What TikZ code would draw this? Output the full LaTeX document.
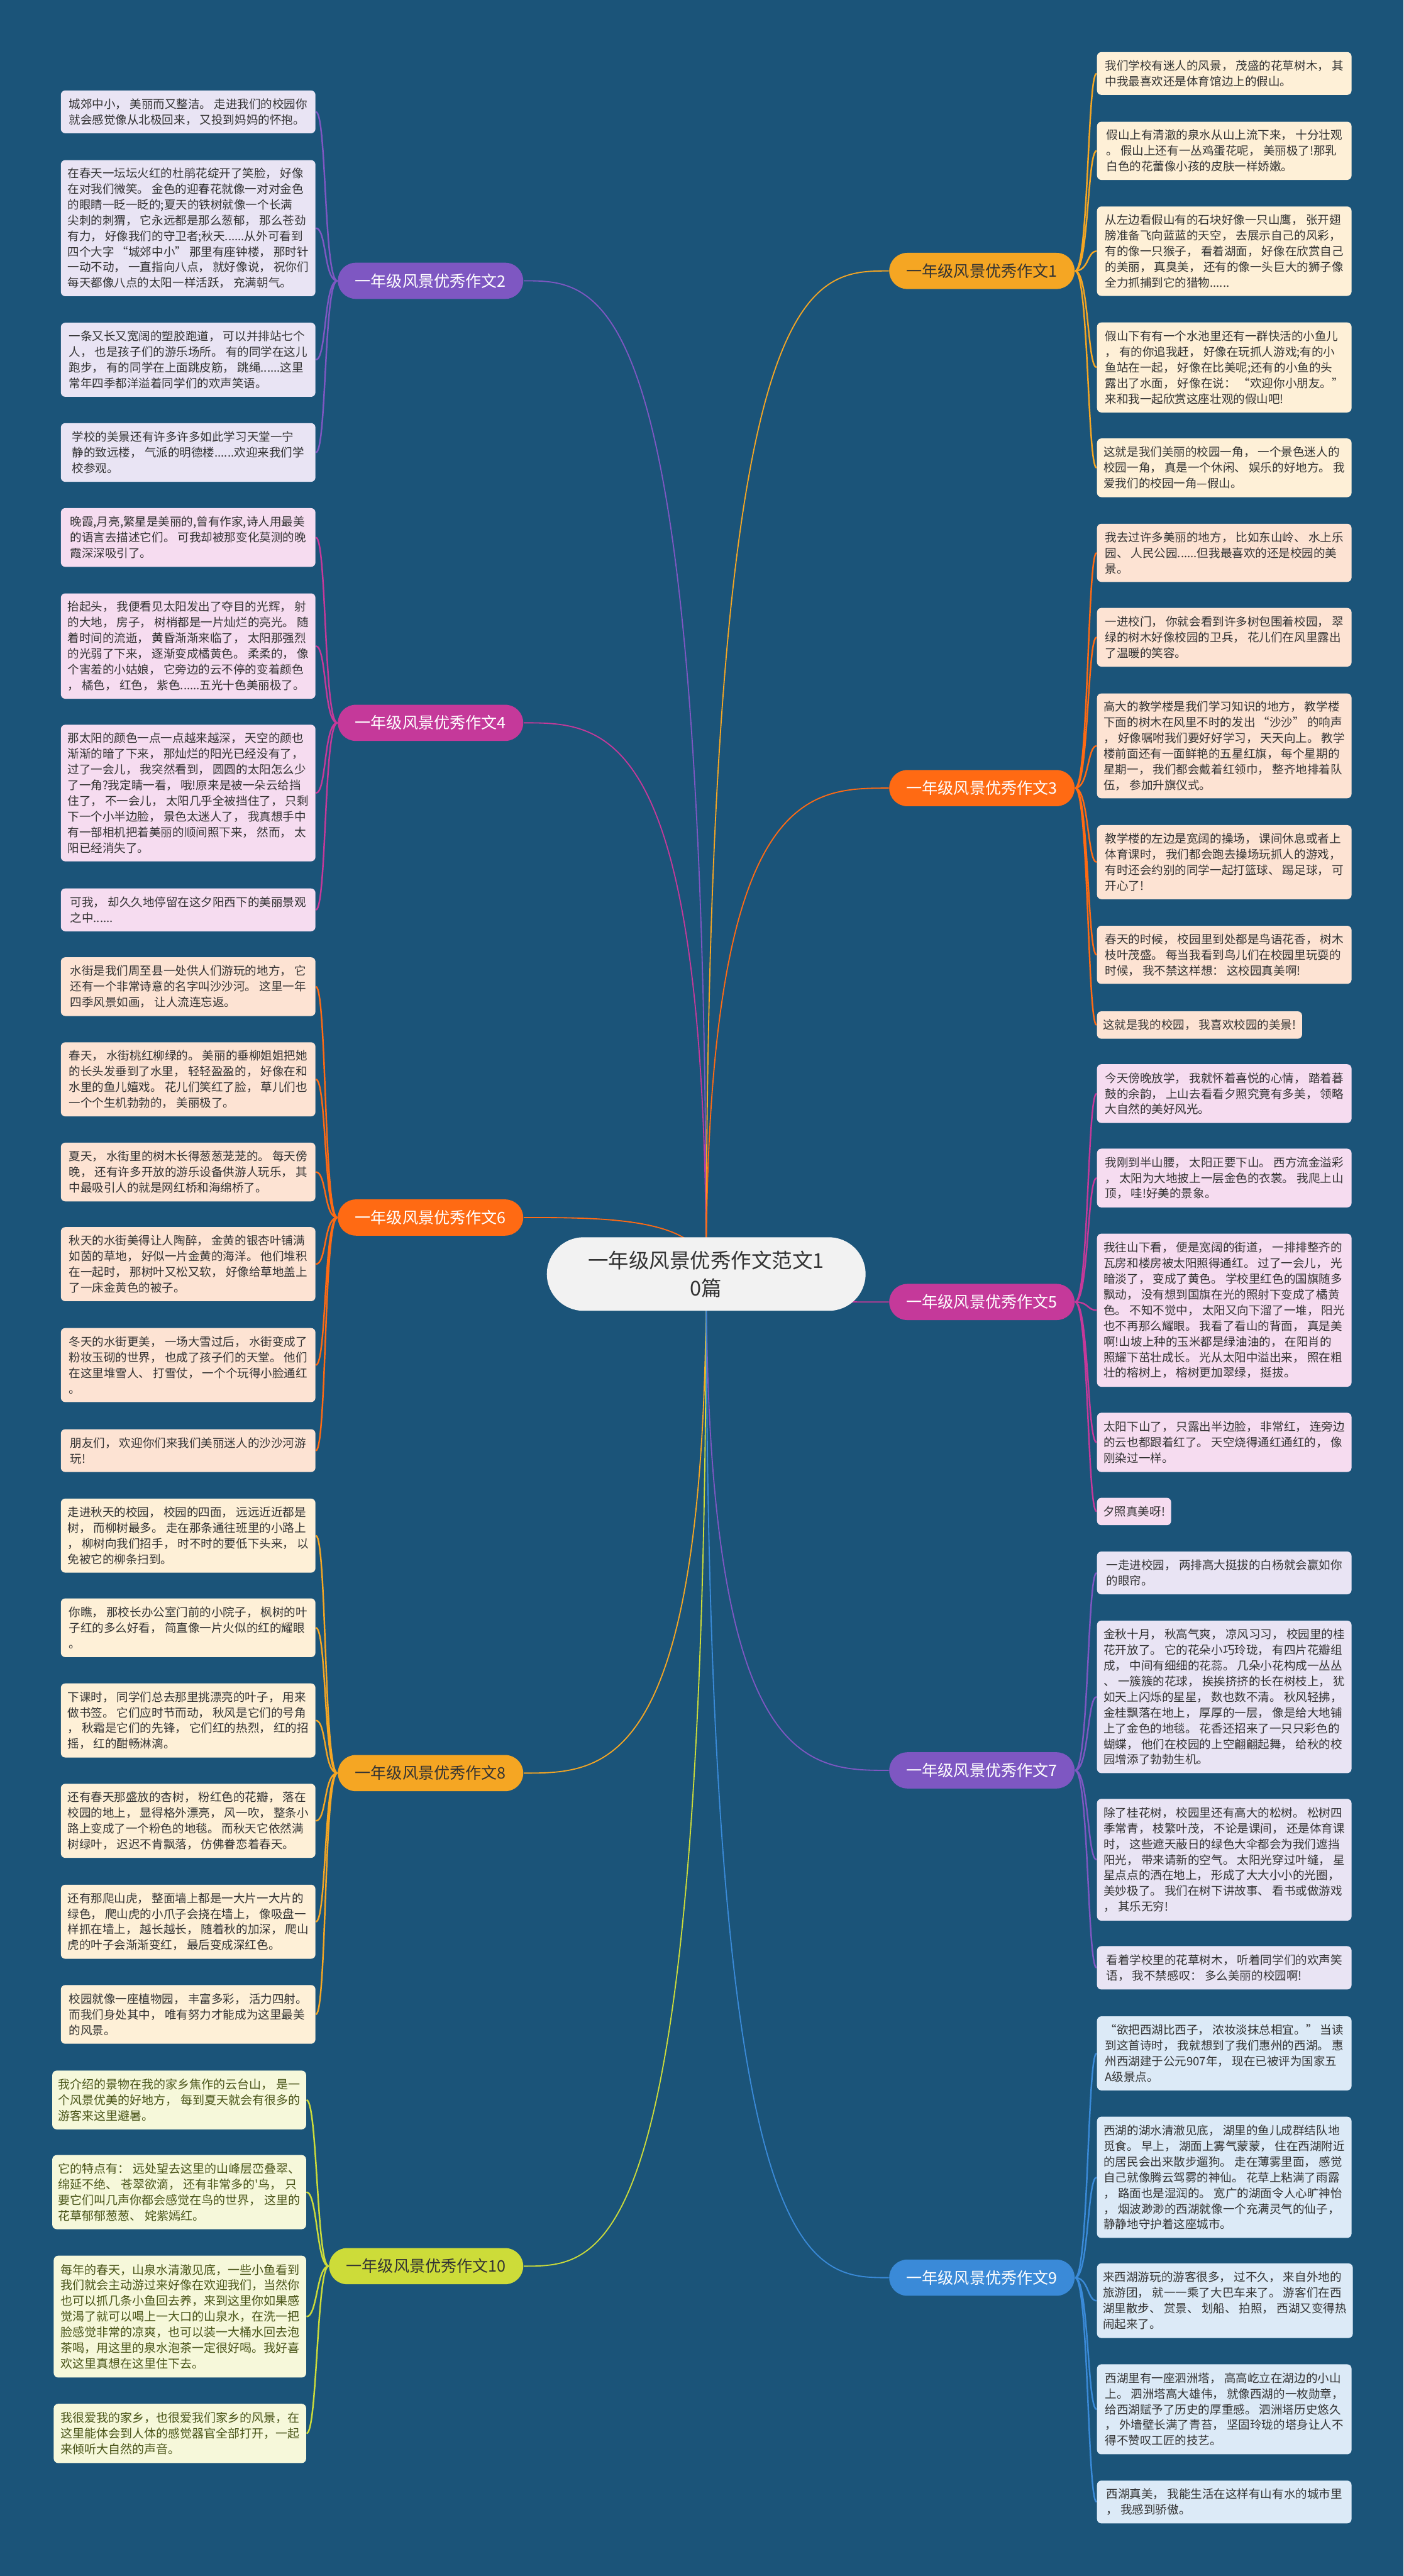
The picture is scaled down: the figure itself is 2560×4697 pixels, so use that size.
\documentclass[tikz,border=0pt]{standalone}
\usepackage{fontspec}
\newfontfamily\cjk{Noto Sans CJK SC}
\usetikzlibrary{calc}

\definecolor{bgblue}{HTML}{1B5479}
\definecolor{rootfill}{HTML}{F2F2F2}
\definecolor{ink}{HTML}{333333}
\definecolor{oliveink}{HTML}{4A5519}
\definecolor{goldbr}{HTML}{F5A623}
\definecolor{purplebr}{HTML}{7E57C2}
\definecolor{orangebr}{HTML}{FF6A13}
\definecolor{berrybr}{HTML}{C5399A}
\definecolor{bluebr}{HTML}{3A8AD8}
\definecolor{limebr}{HTML}{CDDC39}
\definecolor{goldpale}{HTML}{FEF0D7}
\definecolor{purplepale}{HTML}{E9E4F4}
\definecolor{orangepale}{HTML}{FDE3D3}
\definecolor{berrypale}{HTML}{F6DCF0}
\definecolor{bluepale}{HTML}{DCEAF7}
\definecolor{limepale}{HTML}{F6F8DA}

\pgfdeclarelayer{background}
\pgfsetlayers{background,main}

\begin{document}
\begin{tikzpicture}[
  x=0.01cm, y=-0.01cm,
  every node/.style={font=\cjk},
  root/.style={fill=rootfill, text=ink, rounded corners=0.67cm,
    minimum width=5.81cm, minimum height=1.34cm, align=center,
    font=\cjk\fontsize{10.6}{14.5}\selectfont},
  topic/.style={rounded corners=0.33cm, minimum width=3.38cm,
    minimum height=0.66cm, inner sep=0pt,
    font=\cjk\fontsize{8.2}{10}\selectfont},
  leaf/.style={rounded corners=0.08cm, align=left, text=ink,
    inner xsep=0.11cm, inner ysep=0.04cm,
    font=\cjk\fontsize{6.05}{8.13}\selectfont},
  wide/.style={leaf, minimum width=4.64cm},
  hill/.style={leaf, minimum width=4.6cm, fill=limepale, text=oliveink,
    font=\cjk\fontsize{6.2}{8.13}\selectfont},
  spoke/.style={line width=0.6pt},
  twig/.style={line width=0.8pt}
]
\useasboundingbox (0,0) rectangle (2560,4697);

% ------------------------------------------------------------
% Centre and topics
% ------------------------------------------------------------
\node[root] (root) at (1288,2323) {一年级风景优秀作文范文1\\0篇};

\node[topic, fill=purplebr, text=white, anchor=east] (t2) at (955,512) {一年级风景优秀作文2};
\node[topic, fill=berrybr, text=white, anchor=east] (t4) at (955,1318) {一年级风景优秀作文4};
\node[topic, fill=orangebr, text=white, anchor=east] (t6) at (955,2220) {一年级风景优秀作文6};
\node[topic, fill=goldbr, text=ink, anchor=east] (t8) at (955,3233) {一年级风景优秀作文8};
\node[topic, fill=limebr, text=ink, anchor=east, minimum width=3.54cm] (t10) at (955,4132) {一年级风景优秀作文10};

\node[topic, fill=goldbr, text=ink, anchor=west] (t1) at (1621,494) {一年级风景优秀作文1};
\node[topic, fill=orangebr, text=white, anchor=west] (t3) at (1621,1437) {一年级风景优秀作文3};
\node[topic, fill=berrybr, text=white, anchor=west] (t5) at (1621,2374) {一年级风景优秀作文5};
\node[topic, fill=purplebr, text=white, anchor=west] (t7) at (1621,3228) {一年级风景优秀作文7};
\node[topic, fill=bluebr, text=white, anchor=west] (t9) at (1621,4153) {一年级风景优秀作文9};

% ------------------------------------------------------------
% Left column
% ------------------------------------------------------------
% topic 2
\node[wide, fill=purplepale, anchor=east, minimum height=0.78cm] (l2a) at (576,204) {城郊中小， 美丽而又整洁。 走进我们的校园你\\
就会感觉像从北极回来， 又投到妈妈的怀抱。};
\node[wide, fill=purplepale, anchor=east, minimum height=2.48cm] (l2b) at (576,416) {在春天一坛坛火红的杜鹃花绽开了笑脸， 好像\\
在对我们微笑。 金色的迎春花就像一对对金色\\
的眼睛一眨一眨的;夏天的铁树就像一个长满\\
尖刺的刺猬， 它永远都是那么葱郁， 那么苍劲\\
有力， 好像我们的守卫者;秋天......从外可看到\\
四个大字 “城郊中小” 那里有座钟楼， 那时针\\
一动不动， 一直指向八点， 就好像说， 祝你们\\
每天都像八点的太阳一样活跃， 充满朝气。};
\node[wide, fill=purplepale, anchor=east, minimum height=1.35cm] (l2c) at (576,656) {一条又长又宽阔的塑胶跑道， 可以并排站七个\\
人， 也是孩子们的游乐场所。 有的同学在这儿\\
跑步， 有的同学在上面跳皮筋， 跳绳......这里\\
常年四季都洋溢着同学们的欢声笑语。};
\node[wide, fill=purplepale, anchor=east, minimum height=1.07cm] (l2d) at (576,825) {学校的美景还有许多许多如此学习天堂一宁\\
静的致远楼， 气派的明德楼......欢迎来我们学\\
校参观。};

% topic 4
\node[wide, fill=berrypale, anchor=east, minimum height=1.07cm] (l4a) at (576,980) {晚霞,月亮,繁星是美丽的,曾有作家,诗人用最美\\
的语言去描述它们。 可我却被那变化莫测的晚\\
霞深深吸引了。};
\node[wide, fill=berrypale, anchor=east, minimum height=1.92cm] (l4b) at (576,1178) {抬起头， 我便看见太阳发出了夺目的光辉， 射\\
的大地， 房子， 树梢都是一片灿烂的亮光。 随\\
着时间的流逝， 黄昏渐渐来临了， 太阳那强烈\\
的光弱了下来， 逐渐变成橘黄色。 柔柔的， 像\\
个害羞的小姑娘， 它旁边的云不停的变着颜色\\
， 橘色， 红色， 紫色......五光十色美丽极了。};
\node[wide, fill=berrypale, anchor=east, minimum height=2.49cm] (l4c) at (576,1446) {那太阳的颜色一点一点越来越深， 天空的颜也\\
渐渐的暗了下来， 那灿烂的阳光已经没有了，\\
过了一会儿， 我突然看到， 圆圆的太阳怎么少\\
了一角?我定睛一看， 哦!原来是被一朵云给挡\\
住了， 不一会儿， 太阳几乎全被挡住了， 只剩\\
下一个小半边脸， 景色太迷人了， 我真想手中\\
有一部相机把着美丽的顺间照下来， 然而， 太\\
阳已经消失了。};
\node[wide, fill=berrypale, anchor=east, minimum height=0.78cm] (l4d) at (576,1659) {可我， 却久久地停留在这夕阳西下的美丽景观\\
之中......};

% topic 6
\node[wide, fill=orangepale, anchor=east, minimum height=1.07cm] (l6a) at (576,1799) {水街是我们周至县一处供人们游玩的地方， 它\\
还有一个非常诗意的名字叫沙沙河。 这里一年\\
四季风景如画， 让人流连忘返。};
\node[wide, fill=orangepale, anchor=east, minimum height=1.35cm] (l6b) at (576,1968) {春天， 水街桃红柳绿的。 美丽的垂柳姐姐把她\\
的长头发垂到了水里， 轻轻盈盈的， 好像在和\\
水里的鱼儿嬉戏。 花儿们笑红了脸， 草儿们也\\
一个个生机勃勃的， 美丽极了。};
\node[wide, fill=orangepale, anchor=east, minimum height=1.07cm] (l6c) at (576,2137) {夏天， 水街里的树木长得葱葱茏茏的。 每天傍\\
晚， 还有许多开放的游乐设备供游人玩乐， 其\\
中最吸引人的就是网红桥和海绵桥了。};
\node[wide, fill=orangepale, anchor=east, minimum height=1.35cm] (l6d) at (576,2305) {秋天的水街美得让人陶醉， 金黄的银杏叶铺满\\
如茵的草地， 好似一片金黄的海洋。 他们堆积\\
在一起时， 那树叶又松又软， 好像给草地盖上\\
了一床金黄色的被子。};
\node[wide, fill=orangepale, anchor=east, minimum height=1.35cm] (l6e) at (576,2489) {冬天的水街更美， 一场大雪过后， 水街变成了\\
粉妆玉砌的世界， 也成了孩子们的天堂。 他们\\
在这里堆雪人、 打雪仗， 一个个玩得小脸通红\\
。};
\node[wide, fill=orangepale, anchor=east, minimum height=0.78cm] (l6f) at (576,2645) {朋友们， 欢迎你们来我们美丽迷人的沙沙河游\\
玩!};

% topic 8
\node[wide, fill=goldpale, anchor=east, minimum height=1.35cm] (l8a) at (576,2800) {走进秋天的校园， 校园的四面， 远远近近都是\\
树， 而柳树最多。 走在那条通往班里的小路上\\
， 柳树向我们招手， 时不时的要低下头来， 以\\
免被它的柳条扫到。};
\node[wide, fill=goldpale, anchor=east, minimum height=1.07cm] (l8b) at (576,2968) {你瞧， 那校长办公室门前的小院子， 枫树的叶\\
子红的多么好看， 简直像一片火似的红的耀眼\\
。};
\node[wide, fill=goldpale, anchor=east, minimum height=1.35cm] (l8c) at (576,3137) {下课时， 同学们总去那里挑漂亮的叶子， 用来\\
做书签。 它们应时节而动， 秋风是它们的号角\\
， 秋霜是它们的先锋， 它们红的热烈， 红的招\\
摇， 红的酣畅淋漓。};
\node[wide, fill=goldpale, anchor=east, minimum height=1.35cm] (l8d) at (576,3320) {还有春天那盛放的杏树， 粉红色的花瓣， 落在\\
校园的地上， 显得格外漂亮， 风一吹， 整条小\\
路上变成了一个粉色的地毯。 而秋天它依然满\\
树绿叶， 迟迟不肯飘落， 仿佛眷恋着春天。};
\node[wide, fill=goldpale, anchor=east, minimum height=1.35cm] (l8e) at (576,3504) {还有那爬山虎， 整面墙上都是一大片一大片的\\
绿色， 爬山虎的小爪子会挠在墙上， 像吸盘一\\
样抓在墙上， 越长越长， 随着秋的加深， 爬山\\
虎的叶子会渐渐变红， 最后变成深红色。};
\node[wide, fill=goldpale, anchor=east, minimum height=1.07cm] (l8f) at (576,3673) {校园就像一座植物园， 丰富多彩， 活力四射。\\
而我们身处其中， 唯有努力才能成为这里最美\\
的风景。};

% topic 10
\node[hill, anchor=east, minimum height=1.07cm] (l10a) at (559,3829) {我介绍的景物在我的家乡焦作的云台山， 是一\\
个风景优美的好地方， 每到夏天就会有很多的\\
游客来这里避暑。};
\node[hill, anchor=east, minimum height=1.35cm] (l10b) at (559,3997) {它的特点有： 远处望去这里的山峰层峦叠翠、\\
绵延不绝、 苍翠欲滴， 还有非常多的'鸟， 只\\
要它们叫几声你都会感觉在鸟的世界， 这里的\\
花草郁郁葱葱、 姹紫嫣红。};
\node[hill, anchor=east, minimum height=2.22cm] (l10c) at (559,4224) {每年的春天，山泉水清澈见底，一些小鱼看到\\
我们就会主动游过来好像在欢迎我们，当然你\\
也可以抓几条小鱼回去养，来到这里你如果感\\
觉渴了就可以喝上一大口的山泉水，在洗一把\\
脸感觉非常的凉爽，也可以装一大桶水回去泡\\
茶喝，用这里的泉水泡茶一定很好喝。我好喜\\
欢这里真想在这里住下去。};
\node[hill, anchor=east, minimum height=1.08cm] (l10d) at (559,4437) {我很爱我的家乡，也很爱我们家乡的风景，在\\
这里能体会到人体的感觉器官全部打开，一起\\
来倾听大自然的声音。};

% ------------------------------------------------------------
% Right column
% ------------------------------------------------------------
% topic 1
\node[wide, fill=goldpale, anchor=west, minimum height=0.78cm] (r1a) at (2000,134) {我们学校有迷人的风景， 茂盛的花草树木， 其\\
中我最喜欢还是体育馆边上的假山。};
\node[wide, fill=goldpale, anchor=west, minimum height=1.06cm] (r1b) at (2000,275) {假山上有清澈的泉水从山上流下来， 十分壮观\\
。 假山上还有一丛鸡蛋花呢， 美丽极了!那乳\\
白色的花蕾像小孩的皮肤一样娇嫩。};
\node[wide, fill=goldpale, anchor=west, minimum height=1.63cm] (r1c) at (2000,458) {从左边看假山有的石块好像一只山鹰， 张开翅\\
膀准备飞向蓝蓝的天空， 去展示自己的风彩，\\
有的像一只猴子， 看着湖面， 好像在欣赏自己\\
的美丽， 真臭美， 还有的像一头巨大的狮子像\\
全力抓捕到它的猎物......};
\node[wide, fill=goldpale, anchor=west, minimum height=1.64cm] (r1d) at (2000,670) {假山下有有一个水池里还有一群快活的小鱼儿\\
， 有的你追我赶， 好像在玩抓人游戏;有的小\\
鱼站在一起， 好像在比美呢;还有的小鱼的头\\
露出了水面， 好像在说： “欢迎你小朋友。”\\
来和我一起欣赏这座壮观的假山吧!};
\node[wide, fill=goldpale, anchor=west, minimum height=1.07cm] (r1e) at (2000,853) {这就是我们美丽的校园一角， 一个景色迷人的\\
校园一角， 真是一个休闲、 娱乐的好地方。 我\\
爱我们的校园一角—假山。};

% topic 3
\node[wide, fill=orangepale, anchor=west, minimum height=1.06cm] (r3a) at (2000,1008) {我去过许多美丽的地方， 比如东山岭、 水上乐\\
园、 人民公园......但我最喜欢的还是校园的美\\
景。};
\node[wide, fill=orangepale, anchor=west, minimum height=1.07cm] (r3b) at (2000,1162) {一进校门， 你就会看到许多树包围着校园， 翠\\
绿的树木好像校园的卫兵， 花儿们在风里露出\\
了温暖的笑容。};
\node[wide, fill=orangepale, anchor=west, minimum height=1.91cm] (r3c) at (2000,1360) {高大的教学楼是我们学习知识的地方， 教学楼\\
下面的树木在风里不时的发出 “沙沙” 的响声\\
， 好像嘱咐我们要好好学习， 天天向上。 教学\\
楼前面还有一面鲜艳的五星红旗， 每个星期的\\
星期一， 我们都会戴着红领巾， 整齐地排着队\\
伍， 参加升旗仪式。};
\node[wide, fill=orangepale, anchor=west, minimum height=1.35cm] (r3d) at (2000,1572) {教学楼的左边是宽阔的操场， 课间休息或者上\\
体育课时， 我们都会跑去操场玩抓人的游戏，\\
有时还会约别的同学一起打篮球、 踢足球， 可\\
开心了!};
\node[wide, fill=orangepale, anchor=west, minimum height=1.06cm] (r3e) at (2000,1741) {春天的时候， 校园里到处都是鸟语花香， 树木\\
枝叶茂盛。 每当我看到鸟儿们在校园里玩耍的\\
时候， 我不禁这样想： 这校园真美啊!};
\node[leaf, fill=orangepale, anchor=west, minimum height=0.5cm] (r3f) at (2000,1869) {这就是我的校园， 我喜欢校园的美景!};

% topic 5
\node[wide, fill=berrypale, anchor=west, minimum height=1.07cm] (r5a) at (2000,1994) {今天傍晚放学， 我就怀着喜悦的心情， 踏着暮\\
鼓的余韵， 上山去看看夕照究竟有多美， 领略\\
大自然的美好风光。};
\node[wide, fill=berrypale, anchor=west, minimum height=1.07cm] (r5b) at (2000,2148) {我刚到半山腰， 太阳正要下山。 西方流金溢彩\\
， 太阳为大地披上一层金色的衣裳。 我爬上山\\
顶， 哇!好美的景象。};
\node[wide, fill=berrypale, anchor=west, minimum height=2.79cm] (r5c) at (2000,2389) {我往山下看， 便是宽阔的街道， 一排排整齐的\\
瓦房和楼房被太阳照得通红。 过了一会儿， 光\\
暗淡了， 变成了黄色。 学校里红色的国旗随多\\
飘动， 没有想到国旗在光的照射下变成了橘黄\\
色。 不知不觉中， 太阳又向下溜了一堆， 阳光\\
也不再那么耀眼。 我看了看山的背面， 真是美\\
啊!山坡上种的玉米都是绿油油的， 在阳肖的\\
照耀下茁壮成长。 光从太阳中溢出来， 照在粗\\
壮的榕树上， 榕树更加翠绿， 挺拔。};
\node[wide, fill=berrypale, anchor=west, minimum height=1.08cm] (r5d) at (2000,2630) {太阳下山了， 只露出半边脸， 非常红， 连旁边\\
的云也都跟着红了。 天空烧得通红通红的， 像\\
刚染过一样。};
\node[leaf, fill=berrypale, anchor=west, minimum height=0.5cm] (r5e) at (2000,2756) {夕照真美呀!};

% topic 7
\node[wide, fill=purplepale, anchor=west, minimum height=0.78cm] (r7a) at (2000,2868) {一走进校园， 两排高大挺拔的白杨就会赢如你\\
的眼帘。};
\node[wide, fill=purplepale, anchor=west, minimum height=2.78cm] (r7b) at (2000,3094) {金秋十月， 秋高气爽， 凉风习习， 校园里的桂\\
花开放了。 它的花朵小巧玲珑， 有四片花瓣组\\
成， 中间有细细的花蕊。 几朵小花构成一丛丛\\
、 一簇簇的花球， 挨挨挤挤的长在树枝上， 犹\\
如天上闪烁的星星， 数也数不清。 秋风轻拂，\\
金桂飘落在地上， 厚厚的一层， 像是给大地铺\\
上了金色的地毯。 花香还招来了一只只彩色的\\
蝴蝶， 他们在校园的上空翩翩起舞， 给秋的校\\
园增添了勃勃生机。};
\node[wide, fill=purplepale, anchor=west, minimum height=2.22cm] (r7c) at (2000,3391) {除了桂花树， 校园里还有高大的松树。 松树四\\
季常青， 枝繁叶茂， 不论是课间， 还是体育课\\
时， 这些遮天蔽日的绿色大伞都会为我们遮挡\\
阳光， 带来请新的空气。 太阳光穿过叶缝， 星\\
星点点的洒在地上， 形成了大大小小的光圈，\\
美妙极了。 我们在树下讲故事、 看书或做游戏\\
， 其乐无穷!};
\node[wide, fill=purplepale, anchor=west, minimum height=0.79cm] (r7d) at (2000,3588) {看着学校里的花草树木， 听着同学们的欢声笑\\
语， 我不禁感叹： 多么美丽的校园啊!};

% topic 9
\node[wide, fill=bluepale, anchor=west, minimum height=1.35cm] (r9a) at (2000,3744) {“欲把西湖比西子， 浓妆淡抹总相宜。” 当读\\
到这首诗时， 我就想到了我们惠州的西湖。 惠\\
州西湖建于公元907年， 现在已被评为国家五\\
A级景点。};
\node[wide, fill=bluepale, anchor=west, minimum height=2.21cm] (r9b) at (2000,3970) {西湖的湖水清澈见底， 湖里的鱼儿成群结队地\\
觅食。 早上， 湖面上雾气蒙蒙， 住在西湖附近\\
的居民会出来散步遛狗。 走在薄雾里面， 感觉\\
自己就像腾云驾雾的神仙。 花草上粘满了雨露\\
， 路面也是湿润的。 宽广的湖面令人心旷神怡\\
， 烟波渺渺的西湖就像一个充满灵气的仙子，\\
静静地守护着这座城市。};
\node[wide, fill=bluepale, anchor=west, minimum height=1.36cm] (r9c) at (2000,4195) {来西湖游玩的游客很多， 过不久， 来自外地的\\
旅游团， 就一一乘了大巴车来了。 游客们在西\\
湖里散步、 赏景、 划船、 拍照， 西湖又变得热\\
闹起来了。};
\node[wide, fill=bluepale, anchor=west, minimum height=1.64cm] (r9d) at (2000,4393) {西湖里有一座泗洲塔， 高高屹立在湖边的小山\\
上。 泗洲塔高大雄伟， 就像西湖的一枚勋章，\\
给西湖赋予了历史的厚重感。 泗洲塔历史悠久\\
， 外墙壁长满了青苔， 坚固玲珑的塔身让人不\\
得不赞叹工匠的技艺。};
\node[wide, fill=bluepale, anchor=west, minimum height=0.78cm] (r9e) at (2000,4562) {西湖真美， 我能生活在这样有山有水的城市里\\
， 我感到骄傲。};

% ------------------------------------------------------------
% Background and connectors
% ------------------------------------------------------------
\begin{pgfonlayer}{background}
  \fill[bgblue] (0,0) rectangle (2560,4697);

  % centre to topics
  \draw[spoke, purplebr] (root.center) .. controls (root.center |- t2.east) and +(150,0) .. (t2.east);
  \draw[spoke, berrybr] (root.center) .. controls (root.center |- t4.east) and +(150,0) .. (t4.east);
  \draw[spoke, orangebr] (root.center) .. controls (root.center |- t6.east) and +(150,0) .. (t6.east);
  \draw[spoke, goldbr] (root.center) .. controls (root.center |- t8.east) and +(150,0) .. (t8.east);
  \draw[spoke, limebr] (root.center) .. controls (root.center |- t10.east) and +(150,0) .. (t10.east);
  \draw[spoke, goldbr] (root.center) .. controls (root.center |- t1.west) and +(-150,0) .. (t1.west);
  \draw[spoke, orangebr] (root.center) .. controls (root.center |- t3.west) and +(-150,0) .. (t3.west);
  \draw[spoke, berrybr] (root.center) .. controls (root.center |- t5.west) and +(-150,0) .. (t5.west);
  \draw[spoke, purplebr] (root.center) .. controls (root.center |- t7.west) and +(-150,0) .. (t7.west);
  \draw[spoke, bluebr] (root.center) .. controls (root.center |- t9.west) and +(-150,0) .. (t9.west);

  % topics to leaves, left
  \draw[twig, purplebr]
    (t2.west) .. controls +(-25,0) and +(20,0) .. (l2a.east)
    (t2.west) .. controls +(-25,0) and +(20,0) .. (l2b.east)
    (t2.west) .. controls +(-25,0) and +(20,0) .. (l2c.east)
    (t2.west) .. controls +(-25,0) and +(20,0) .. (l2d.east);
  \draw[twig, berrybr]
    (t4.west) .. controls +(-25,0) and +(20,0) .. (l4a.east)
    (t4.west) .. controls +(-25,0) and +(20,0) .. (l4b.east)
    (t4.west) .. controls +(-25,0) and +(20,0) .. (l4c.east)
    (t4.west) .. controls +(-25,0) and +(20,0) .. (l4d.east);
  \draw[twig, orangebr]
    (t6.west) .. controls +(-25,0) and +(20,0) .. (l6a.east)
    (t6.west) .. controls +(-25,0) and +(20,0) .. (l6b.east)
    (t6.west) .. controls +(-25,0) and +(20,0) .. (l6c.east)
    (t6.west) .. controls +(-25,0) and +(20,0) .. (l6d.east)
    (t6.west) .. controls +(-25,0) and +(20,0) .. (l6e.east)
    (t6.west) .. controls +(-25,0) and +(20,0) .. (l6f.east);
  \draw[twig, goldbr]
    (t8.west) .. controls +(-25,0) and +(20,0) .. (l8a.east)
    (t8.west) .. controls +(-25,0) and +(20,0) .. (l8b.east)
    (t8.west) .. controls +(-25,0) and +(20,0) .. (l8c.east)
    (t8.west) .. controls +(-25,0) and +(20,0) .. (l8d.east)
    (t8.west) .. controls +(-25,0) and +(20,0) .. (l8e.east)
    (t8.west) .. controls +(-25,0) and +(20,0) .. (l8f.east);
  \draw[twig, limebr]
    (t10.west) .. controls +(-22,0) and +(20,0) .. (l10a.east)
    (t10.west) .. controls +(-22,0) and +(20,0) .. (l10b.east)
    (t10.west) .. controls +(-22,0) and +(20,0) .. (l10c.east)
    (t10.west) .. controls +(-22,0) and +(20,0) .. (l10d.east);

  % topics to leaves, right
  \draw[twig, goldbr]
    (t1.east) .. controls +(25,0) and +(-17,0) .. (r1a.west)
    (t1.east) .. controls +(25,0) and +(-17,0) .. (r1b.west)
    (t1.east) .. controls +(25,0) and +(-17,0) .. (r1c.west)
    (t1.east) .. controls +(25,0) and +(-17,0) .. (r1d.west)
    (t1.east) .. controls +(25,0) and +(-17,0) .. (r1e.west);
  \draw[twig, orangebr]
    (t3.east) .. controls +(25,0) and +(-17,0) .. (r3a.west)
    (t3.east) .. controls +(25,0) and +(-17,0) .. (r3b.west)
    (t3.east) .. controls +(25,0) and +(-17,0) .. (r3c.west)
    (t3.east) .. controls +(25,0) and +(-17,0) .. (r3d.west)
    (t3.east) .. controls +(25,0) and +(-17,0) .. (r3e.west)
    (t3.east) .. controls +(25,0) and +(-17,0) .. (r3f.west);
  \draw[twig, berrybr]
    (t5.east) .. controls +(25,0) and +(-17,0) .. (r5a.west)
    (t5.east) .. controls +(25,0) and +(-17,0) .. (r5b.west)
    (t5.east) .. controls +(25,0) and +(-17,0) .. (r5c.west)
    (t5.east) .. controls +(25,0) and +(-17,0) .. (r5d.west)
    (t5.east) .. controls +(25,0) and +(-17,0) .. (r5e.west);
  \draw[twig, purplebr]
    (t7.east) .. controls +(25,0) and +(-17,0) .. (r7a.west)
    (t7.east) .. controls +(25,0) and +(-17,0) .. (r7b.west)
    (t7.east) .. controls +(25,0) and +(-17,0) .. (r7c.west)
    (t7.east) .. controls +(25,0) and +(-17,0) .. (r7d.west);
  \draw[twig, bluebr]
    (t9.east) .. controls +(25,0) and +(-17,0) .. (r9a.west)
    (t9.east) .. controls +(25,0) and +(-17,0) .. (r9b.west)
    (t9.east) .. controls +(25,0) and +(-17,0) .. (r9c.west)
    (t9.east) .. controls +(25,0) and +(-17,0) .. (r9d.west)
    (t9.east) .. controls +(25,0) and +(-17,0) .. (r9e.west);
\end{pgfonlayer}

\end{tikzpicture}
\end{document}
